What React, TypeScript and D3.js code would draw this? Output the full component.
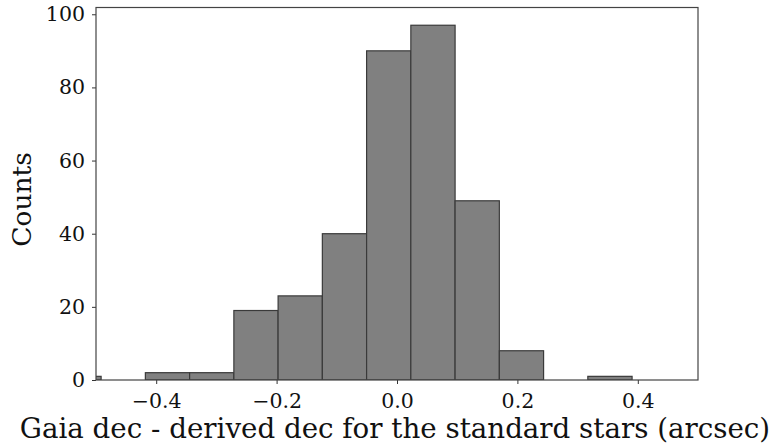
import React, { useEffect, useRef } from "react";
import * as d3 from "d3";

// histogram bin edges (arcsec) and counts
const binEdges = [
  -0.565, -0.4915, -0.418, -0.3445, -0.271, -0.1975, -0.124, -0.0505,
  0.023, 0.0965, 0.17, 0.2435, 0.317, 0.3905,
];
const counts = [1, 0, 2, 2, 19, 23, 40, 90, 97, 49, 8, 0, 1];
const xTicks = [-0.4, -0.2, 0.0, 0.2, 0.4];
const yTicks = [0, 20, 40, 60, 80, 100];

const xLabel = "Gaia dec - derived dec for the standard stars (arcsec)";
const yLabel = "Counts";

const W = 775,
  H = 444;
const margin = { left: 96, right: 77, top: 7.5, bottom: 64 };

export default function App() {
  const ref = useRef<SVGSVGElement>(null);

  useEffect(() => {
    const svg = d3.select(ref.current);
    svg.selectAll("*").remove();

    const iw = W - margin.left - margin.right;
    const ih = H - margin.top - margin.bottom;

    const x = d3.scaleLinear().domain([-0.5, 0.5]).range([0, iw]);
    const y = d3.scaleLinear().domain([0, 101.85]).range([ih, 0]);

    const g = svg
      .append("g")
      .attr("transform", "translate(" + margin.left + "," + margin.top + ")");

    g.append("clipPath")
      .attr("id", "plotclip")
      .append("rect")
      .attr("width", iw)
      .attr("height", ih);

    const bins = counts.map((c, i) => ({
      x0: binEdges[i],
      x1: binEdges[i + 1],
      c: c,
    }));

    g.append("g")
      .attr("clip-path", "url(#plotclip)")
      .selectAll("rect")
      .data(bins.filter((b) => b.c > 0))
      .enter()
      .append("rect")
      .attr("x", (d) => x(d.x0))
      .attr("width", (d) => x(d.x1) - x(d.x0))
      .attr("y", (d) => y(d.c))
      .attr("height", (d) => y(0) - y(d.c))
      .style("fill", "#808080")
      .style("stroke", "#3a3a3a")
      .style("stroke-width", 1.2);

    const font = "'DejaVu Serif', serif";

    const xAxis = g
      .append("g")
      .attr("transform", "translate(0," + ih + ")")
      .call(
        d3
          .axisBottom(x)
          .tickValues(xTicks)
          .tickSize(4)
          .tickPadding(9)
          .tickFormat((d) => d3.format(".1f")(d as number).replace("-", "\u2212"))
      );
    xAxis.select(".domain").remove();

    const yAxis = g
      .append("g")
      .call(
        d3
          .axisLeft(y)
          .tickValues(yTicks)
          .tickSize(4)
          .tickPadding(7)
          .tickFormat(d3.format("d"))
      );
    yAxis.select(".domain").remove();

    [xAxis, yAxis].forEach((a) => {
      a.selectAll("text")
        .style("font-family", font)
        .style("font-size", "20.5px")
        .style("fill", "#111");
      a.selectAll("line").style("stroke", "#333");
    });

    // frame
    g.append("rect")
      .attr("width", iw)
      .attr("height", ih)
      .style("fill", "none")
      .style("stroke", "#444")
      .style("stroke-width", 1.2);

    svg
      .append("text")
      .text(xLabel)
      .attr("x", 395)
      .attr("y", 438)
      .attr("text-anchor", "middle")
      .style("font-family", font)
      .style("font-size", "27.7px")
      .style("fill", "#111");

    svg
      .append("text")
      .text(yLabel)
      .attr("transform", "translate(31,199.5) rotate(-90)")
      .attr("text-anchor", "middle")
      .style("font-family", font)
      .style("font-size", "26.5px")
      .style("fill", "#111");
  }, []);

  return (
    <svg
      ref={ref}
      width={W}
      height={H}
      style={{ position: "absolute", left: 0, top: 0, background: "#fff" }}
    />
  );
}
